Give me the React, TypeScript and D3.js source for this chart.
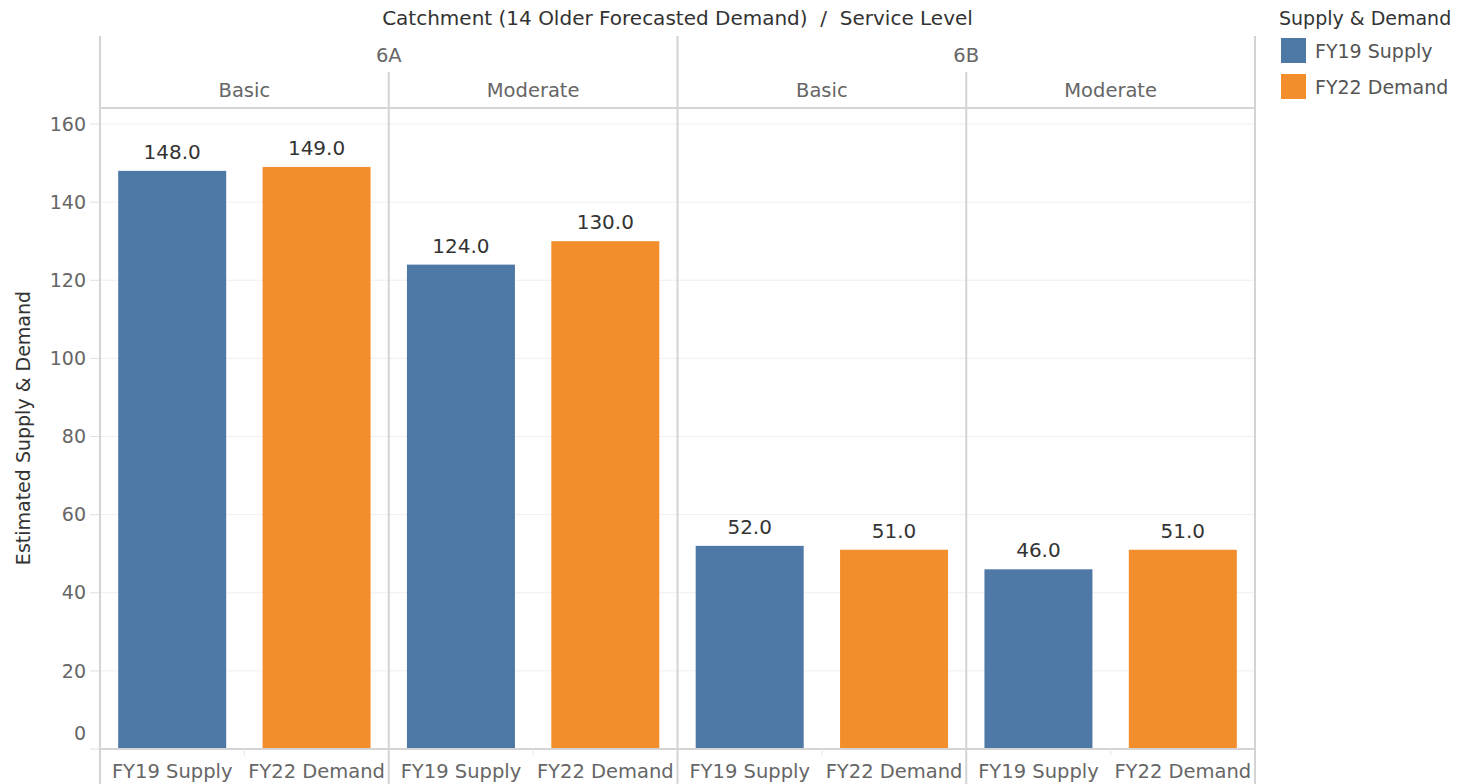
import React from "react";
import * as d3 from "d3";

const catchments = ["6A", "6B"];
const serviceLevels = ["Basic", "Moderate"];
const measures = ["FY19 Supply", "FY22 Demand"];
const supplyValues = [148, 124, 52, 46];
const demandValues = [149, 130, 51, 51];
const yTicks = [0, 20, 40, 60, 80, 100, 120, 140, 160];
const colors = ["#4e79a7", "#f28e2b"];

const W = 1461;
const H = 784;
const left = 100;
const right = 1255;
const top = 108;
const bottom = 749;
const font = "'DejaVu Sans', Verdana, sans-serif";

export default function App() {
  const panels = catchments.flatMap((c) => serviceLevels.map((s) => `${c}|${s}`));
  const xPanel = d3.scaleBand<string>().domain(panels).range([left, right]);
  const xCat = d3.scaleBand<string>().domain(catchments).range([left, right]);
  const xInner = d3.scaleBand<string>().domain(measures).range([0, xPanel.bandwidth()]);
  const y = d3.scaleLinear().domain([0, 160]).range([bottom, bottom - 625]);
  const barW = 108;

  const data = panels.flatMap((p, i) => [
    { panel: p, m: measures[0], v: supplyValues[i], c: colors[0] },
    { panel: p, m: measures[1], v: demandValues[i], c: colors[1] },
  ]);

  return (
    <svg width={W} height={H} style={{ position: "absolute", left: 0, top: 0, background: "#fff" }}>
      {yTicks.map((t) => (
        <line key={"g" + t} x1={left} x2={right} y1={y(t)} y2={y(t)} stroke="#efefef" strokeWidth={1} />
      ))}
      {yTicks.map((t) => (
        <g key={"t" + t}>
          <line x1={90} x2={left} y1={y(t)} y2={y(t)} stroke="#e0e0e0" />
          <text x={86} y={t === 0 ? y(t) - 16 : y(t)} dy="0.35em" textAnchor="end" fontSize={19} fill="#666" fontFamily={font}>
            {t}
          </text>
        </g>
      ))}
      <text transform={`translate(30,428) rotate(-90)`} textAnchor="middle" fontSize={19} fill="#333" fontFamily={font}>
        Estimated Supply &amp; Demand
      </text>
      {data.map((d, i) => {
        const cx = (xPanel(d.panel) as number) + (xInner(d.m) as number) + xInner.bandwidth() / 2;
        return (
          <g key={"b" + i}>
            <rect x={cx - barW / 2} y={y(d.v)} width={barW} height={bottom - y(d.v)} fill={d.c} />
            <text x={cx} y={y(d.v) - 12} textAnchor="middle" fontSize={20} fill="#333" fontFamily={font}>
              {d.v.toFixed(1)}
            </text>
          </g>
        );
      })}
      <line x1={left} x2={right} y1={top} y2={top} stroke="#d4d4d4" strokeWidth={2} />
      <line x1={left} x2={right} y1={bottom} y2={bottom} stroke="#d4d4d4" strokeWidth={2} />
      {catchments.map((c) => (
        <line key={"cl" + c} x1={xCat(c) as number} x2={xCat(c) as number} y1={36} y2={H} stroke="#d4d4d4" strokeWidth={2} />
      ))}
      <line x1={right} x2={right} y1={36} y2={H} stroke="#d4d4d4" strokeWidth={2} />
      {panels.map((p, i) =>
        serviceLevels.indexOf(p.split("|")[1]) > 0 ? (
          <line key={"pl" + i} x1={xPanel(p) as number} x2={xPanel(p) as number} y1={72} y2={H} stroke="#d4d4d4" strokeWidth={2} />
        ) : null
      )}
      {panels.map((p, i) => (
        <line key={"it" + i} x1={(xPanel(p) as number) + xPanel.bandwidth() / 2} x2={(xPanel(p) as number) + xPanel.bandwidth() / 2} y1={bottom} y2={bottom + 6} stroke="#e6e6e6" />
      ))}
      <text x={(left + right) / 2} y={18} dy="0.35em" textAnchor="middle" fontSize={20} fill="#333" fontFamily={font}>
        {"Catchment (14 Older Forecasted Demand)\u00a0\u00a0/\u00a0\u00a0Service Level"}
      </text>
      {catchments.map((c) => (
        <text key={"ct" + c} x={(xCat(c) as number) + xCat.bandwidth() / 2} y={55} dy="0.35em" textAnchor="middle" fontSize={19.5} fill="#666" fontFamily={font}>
          {c}
        </text>
      ))}
      {panels.map((p, i) => (
        <text key={"st" + i} x={(xPanel(p) as number) + xPanel.bandwidth() / 2} y={90} dy="0.35em" textAnchor="middle" fontSize={19.5} fill="#666" fontFamily={font}>
          {p.split("|")[1]}
        </text>
      ))}
      {panels.flatMap((p, i) =>
        measures.map((m) => (
          <text key={"cat" + i + m} x={(xPanel(p) as number) + (xInner(m) as number) + xInner.bandwidth() / 2} y={771} dy="0.35em" textAnchor="middle" fontSize={19.5} fill="#666" fontFamily={font}>
            {m}
          </text>
        ))
      )}
      <text x={1279} y={18} dy="0.35em" fontSize={19} fill="#333" fontFamily={font}>
        Supply &amp; Demand
      </text>
      {measures.map((m, i) => (
        <g key={"lg" + m} transform={`translate(1281,${38 + i * 36})`}>
          <rect width={25} height={25} fill={colors[i]} />
          <text x={34} y={13} dy="0.35em" fontSize={19} fill="#555" fontFamily={font}>
            {m}
          </text>
        </g>
      ))}
    </svg>
  );
}
